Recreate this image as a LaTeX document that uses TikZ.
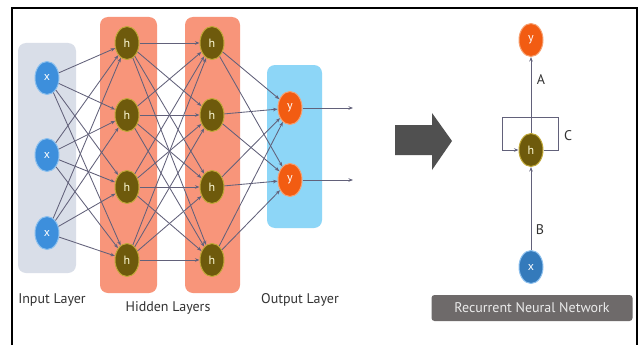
\documentclass[tikz,border=0pt]{standalone}
\usepackage{fontspec}
\setmainfont{PT Sans}
\usetikzlibrary{shapes.geometric,arrows.meta}
\definecolor{inbg}{HTML}{D9DEE8}
\definecolor{hidbg}{HTML}{F8957A}
\definecolor{outbg}{HTML}{8DD6F7}
\definecolor{innode}{HTML}{3D8FDC}
\definecolor{inrim}{HTML}{8CC0EE}
\definecolor{hidnode}{HTML}{6E5A0C}
\definecolor{hidrim}{HTML}{C0A838}
\definecolor{outnode}{HTML}{F25C12}
\definecolor{outrim}{HTML}{F7A070}
\definecolor{edgecol}{HTML}{62617A}
\definecolor{bigarrow}{HTML}{505050}
\definecolor{banner}{HTML}{6E6A6A}
\tikzset{
  neuron/.style={ellipse, minimum width=24pt, minimum height=33pt, inner sep=0pt,
    line width=1pt, text=white, font=\fontsize{12}{12}\selectfont},
  xnode/.style={neuron, fill=innode, draw=inrim},
  hnode/.style={neuron, fill=hidnode, draw=hidrim, text=white!85!yellow},
  ynode/.style={neuron, fill=outnode, draw=outrim},
  layerbox/.style={rounded corners=8pt, draw=none},
  link/.style={draw=edgecol, line width=0.85pt, -{Stealth[length=4.5pt,width=3.5pt]}},
  caption/.style={font=\fontsize{14}{14}\selectfont, text=black!80},
  letter/.style={font=\fontsize{14}{14}\selectfont, text=black!80}
}
\begin{document}
\begin{tikzpicture}[x=1pt, y=-1pt]
\useasboundingbox (0,0) rectangle (639,345);
\fill[white] (0,0) rectangle (639,345);
% outer frame (open at the bottom)
\draw[black, line width=1.5pt] (12,345) -- (12,8) -- (637,8) -- (637,345);

% layer backgrounds
\fill[inbg, layerbox]  (18,43)  rectangle (76,273);
\fill[hidbg, layerbox] (100,17) rectangle (157,293);
\fill[hidbg, layerbox] (185,17) rectangle (240,293);
\fill[outbg, layerbox] (267,65) rectangle (322,228);

% neurons
\foreach \i/\y in {1/78,2/155,3/233}
  \node[xnode] (x\i) at (47,\y) {x};
\foreach \i/\y in {1/43,2/115,3/187,4/260}{
  \node[hnode] (a\i) at (127,\y) {h};
  \node[hnode] (b\i) at (212,\y) {h};
}
\foreach \i/\y in {1/108,2/180}
  \node[ynode] (y\i) at (290,\y) {y};

% fully connected links
\foreach \i in {1,2,3}
  \foreach \j in {1,2,3,4}
    \draw[link] (x\i) -- (a\j);
\foreach \i in {1,2,3,4}
  \foreach \j in {1,2,3,4}
    \draw[link] (a\i) -- (b\j);
\foreach \i in {1,2,3,4}
  \foreach \j in {1,2}
    \draw[link] (b\i) -- (y\j);
\coordinate (o1) at (353,108);
\coordinate (o2) at (353,180);
\draw[link] (y1) -- (o1);
\draw[link] (y2) -- (o2);

% layer captions
\node[caption] (capin)  at (52,300)  {Input Layer};
\node[caption] (caphid) at (168,308) {Hidden Layers};
\node[caption] (capout) at (300,300) {Output Layer};

% transition arrow
\fill[bigarrow] (395,125) -- (432,125) -- (432,113) -- (452,141) -- (432,170)
  -- (432,155) -- (395,155) -- cycle;

% recurrent cell
\node[ynode] (ry) at (531,40)  {y};
\node[hnode] (rh) at (531,150) {h};
\node[xnode, fill=innode!85!black] (rx) at (531,267) {x};
\draw[link] (rx) -- (rh);
\draw[link] (rh) -- (ry);
\coordinate (lr) at (558,117);
\coordinate (ll) at (502,117);
\draw[link] (rh.east) -| (lr) -- (ll) |- (rh.west);
\node[letter] (la) at (541,80)  {A};
\node[letter] (lb) at (540,230) {B};
\node[letter] (lc) at (568,136) {C};

% caption banner
\node[fill=banner, rounded corners=3pt, minimum width=201pt, minimum height=26pt,
  text=white!92!black, font=\fontsize{14}{14}\selectfont] (rnn) at (532,308)
  {Recurrent Neural Network};
\end{tikzpicture}
\end{document}
